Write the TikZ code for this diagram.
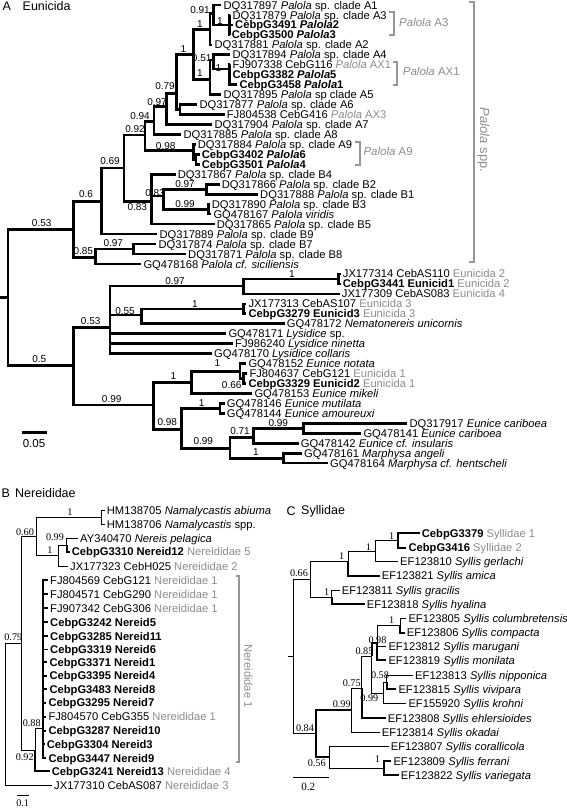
\documentclass[tikz,border=0pt]{standalone}
\usepackage{fontspec}
\setmainfont{Liberation Sans}
\newfontfamily\serifnum{Liberation Serif}
\definecolor{grtxt}{RGB}{140,140,140}
\definecolor{brk}{RGB}{150,150,150}
\newcommand{\greytxt}[1]{\textcolor{grtxt}{#1}}
\newcommand{\tipn}[4]{\node[tip] (#1) at ({#2-2},#3) {#4};}
\begin{document}
\begin{tikzpicture}[x=1pt,y=-1pt,
 tip/.style={anchor=west,inner sep=2pt,font=\fontsize{11.2}{12}\selectfont,text height=8.1pt,text depth=0pt},
 sup/.style={inner sep=0pt,font=\fontsize{10}{11}\selectfont},
 supS/.style={inner sep=0pt,font=\serifnum\fontsize{10.2}{11}\selectfont},
 ttl/.style={anchor=west,inner sep=0pt,font=\fontsize{12.5}{13}\selectfont},
 brA/.style={line width=2.6pt},
 bthin/.style={line width=0.9pt},
 bthick/.style={line width=1.9pt},
 bracket/.style={draw=brk,line width=2.2pt},
 brtxt/.style={text=grtxt,font=\fontsize{11.5}{12}\selectfont,anchor=west,inner sep=0pt}
]
\useasboundingbox (0,0) rectangle (567,808);
% ================= Panel A =================
\node[ttl] (tA) at (2.5,6) {A};
\node[ttl] (tAn) at (22.5,6) {Eunicida};
% tips
\tipn{tA1}{223.3}{5.0}{DQ317897 \textit{Palola} sp. clade A1}
\tipn{tA3}{232.3}{14.96}{DQ317879 \textit{Palola} sp. clade A3}
\tipn{tG3491}{235}{24.92}{\textbf{CebpG3491 \textit{Palola}2}}
\tipn{tG3500}{231.7}{34.88}{\textbf{CebpG3500 \textit{Palola}3}}
\tipn{tA2}{214.3}{44.84}{DQ317881 \textit{Palola} sp. clade A2}
\tipn{tA4}{232.3}{54.8}{DQ317894 \textit{Palola} sp. clade A4}
\tipn{tFJ907338}{232.3}{64.76}{FJ907338 CebG116 \greytxt{\textit{Palola} AX1}}
\tipn{tG3382}{232.3}{74.72}{\textbf{CebpG3382 \textit{Palola}5}}
\tipn{tG3458}{239.3}{84.68}{\textbf{CebpG3458 \textit{Palola}1}}
\tipn{tA5}{223.3}{94.64}{DQ317895 \textit{Palola} sp clade A5}
\tipn{tA6}{199.3}{104.6}{DQ317877 \textit{Palola} sp. clade A6}
\tipn{tFJ804538}{226.7}{114.56}{FJ804538 CebG416 \greytxt{\textit{Palola} AX3}}
\tipn{tA7}{214.3}{124.52}{DQ317904 \textit{Palola} sp. clade A7}
\tipn{tA8}{183.3}{134.48}{DQ317885 \textit{Palola} sp. clade A8}
\tipn{tA9}{197.7}{144.44}{DQ317884 \textit{Palola} sp. clade A9}
\tipn{tG3402}{201.7}{154.4}{\textbf{CebpG3402 \textit{Palola}6}}
\tipn{tG3501}{201.7}{164.36}{\textbf{CebpG3501 \textit{Palola}4}}
\tipn{tB4}{177.7}{174.32}{DQ317867 \textit{Palola} sp. clade B4}
\tipn{tB2}{221.7}{184.28}{DQ317866 \textit{Palola} sp. clade B2}
\tipn{tB1}{260}{194.24}{DQ317888 \textit{Palola} sp. clade B1}
\tipn{tB3}{211.7}{204.2}{DQ317890 \textit{Palola} sp. clade B3}
\tipn{tvir}{213.3}{214.16}{GQ478167 \textit{Palola viridis}}
\tipn{tB5}{216.7}{224.12}{DQ317865 \textit{Palola} sp. clade B5}
\tipn{tB9}{159.3}{234.08}{DQ317889 \textit{Palola} sp. clade B9}
\tipn{tB7}{158.3}{244.04}{DQ317874 \textit{Palola} sp. clade B7}
\tipn{tB8}{188}{254}{DQ317871 \textit{Palola} sp. clade B8}
\tipn{tsic}{143.3}{263.96}{GQ478168 \textit{Palola cf. siciliensis}}
\tipn{tJX177314}{342.7}{273.92}{JX177314 CebAS110 \greytxt{Eunicida 2}}
\tipn{tG3441}{342.7}{283.88}{\textbf{CebpG3441 Eunicid1} \greytxt{Eunicida 2}}
\tipn{tJX177309}{341.7}{293.84}{JX177309 CebAS083 \greytxt{Eunicida 4}}
\tipn{tJX177313}{248.3}{303.8}{JX177313 CebAS107 \greytxt{Eunicida 3}}
\tipn{tG3279}{248.3}{313.76}{\textbf{CebpG3279 Eunicid3} \greytxt{Eunicida 3}}
\tipn{tGQ478172}{286.7}{323.72}{GQ478172 \textit{Nematonereis unicornis}}
\tipn{tGQ478171}{228.3}{333.68}{GQ478171 \textit{Lysidice} sp.}
\tipn{tFJ986240}{235}{343.64}{FJ986240 \textit{Lysidice ninetta}}
\tipn{tGQ478170}{214}{353.6}{GQ478170 \textit{Lysidice collaris}}
\tipn{tGQ478152}{248.3}{363.56}{GQ478152 \textit{Eunice notata}}
\tipn{tFJ804637}{249.3}{373.52}{FJ804637 CebG121 \greytxt{Eunicida 1}}
\tipn{tG3329}{248.3}{383.48}{\textbf{CebpG3329 Eunicid2} \greytxt{Eunicida 1}}
\tipn{tGQ478153}{254.3}{393.44}{GQ478153 \textit{Eunice mikeli}}
\tipn{tGQ478146}{226.7}{403.4}{GQ478146 \textit{Eunice mutilata}}
\tipn{tGQ478144}{226.7}{413.36}{GQ478144 \textit{Eunice amoureuxi}}
\tipn{tDQ317917}{409.3}{423.32}{DQ317917 \textit{Eunice cariboea}}
\tipn{tGQ478141}{363.3}{433.28}{GQ478141 \textit{Eunice cariboea}}
\tipn{tGQ478142}{300.7}{443.24}{GQ478142 \textit{Eunice cf. insularis}}
\tipn{tGQ478161}{304}{453.2}{GQ478161 \textit{Marphysa angeli}}
\tipn{tGQ478164}{330}{463.16}{GQ478164 \textit{Marphysa cf. hentscheli}}
% internal nodes
\coordinate (Rs) at (0,297.5);
\coordinate (R) at (8,297.5);
\coordinate (P) at (73.3,229.3);
\coordinate (P06) at (101.7,201.7);
\coordinate (P085) at (95.7,257.3);
\coordinate (P069) at (124,168);
\coordinate (P092) at (145,135);
\coordinate (P094) at (154,121.7);
\coordinate (P097) at (166.7,106.7);
\coordinate (P079) at (176.7,93.3);
\coordinate (P1) at (193.3,54.3);
\coordinate (PA6) at (180,109.6);
\coordinate (P1a) at (210,29.3);
\coordinate (P1b) at (210,79.3);
\coordinate (P091) at (213.3,13.3);
\coordinate (PA3) at (229.3,24.9);
\coordinate (P051) at (213.3,60);
\coordinate (PAX) at (229.3,69);
\coordinate (P098) at (193.3,150.7);
\coordinate (PG34) at (196,159.4);
\coordinate (P083a) at (151.7,201.7);
\coordinate (P083b) at (163.3,196);
\coordinate (P097b) at (206.7,189.3);
\coordinate (P099) at (208.3,209.2);
\coordinate (P097c) at (133.3,249);
\coordinate (E) at (73.3,365.7);
\coordinate (E053) at (110,327.3);
\coordinate (E099) at (153.3,405);
\coordinate (E097) at (243.3,286);
\coordinate (E1a) at (338.3,278.9);
\coordinate (E055) at (141.7,315);
\coordinate (E1b) at (243.3,308.8);
\coordinate (E1c) at (191.7,382.7);
\coordinate (E1d) at (240,371.7);
\coordinate (E066) at (243.3,378.5);
\coordinate (E098) at (181.7,429.3);
\coordinate (E1e) at (220,408.4);
\coordinate (E099b) at (230,448.3);
\coordinate (E071) at (253.3,437.3);
\coordinate (E099c) at (303.3,428.3);
\coordinate (E1f) at (283.3,458.2);
% branches
\draw[brA] (Rs) -- (R) (R) |- (P) (R) |- (E);
\draw[brA] (P) |- (P06) (P) |- (P085);
\draw[brA] (P06) |- (P069) (P06) |- (tB9.west);
\draw[brA] (P069) |- (P092) (P069) |- (P083a);
\draw[brA] (P092) |- (P094) (P092) |- (P098);
\draw[brA] (P094) |- (P097) (P094) |- (tA8.west);
\draw[brA] (P097) |- (P079) (P097) |- (tA7.west);
\draw[brA] (P079) |- (P1) (P079) |- (PA6);
\draw[brA] (PA6) |- (tA6.west) (PA6) |- (tFJ804538.west);
\draw[brA] (P1) |- (P1a) (P1) |- (P1b);
\draw[brA] (P1a) |- (P091) (P1a) |- (tA2.west);
\draw[brA] (P091) |- (tA1.west) (P091) |- (PA3);
\draw[brA] (PA3) |- (tA3.west) (PA3) |- (tG3491.west) (PA3) |- (tG3500.west);
\draw[brA] (P1b) |- (P051) (P1b) |- (tA5.west);
\draw[brA] (P051) |- (tA4.west) (P051) |- (PAX);
\draw[brA] (PAX) |- (tFJ907338.west) (PAX) |- (tG3382.west) (PAX) |- (tG3458.west);
\draw[brA] (P098) |- (tA9.west) (P098) |- (PG34);
\draw[brA] (PG34) |- (tG3402.west) (PG34) |- (tG3501.west);
\draw[brA] (P083a) |- (tB4.west) (P083a) |- (P083b) (P083a) |- (tB5.west);
\draw[brA] (P083b) |- (P097b) (P083b) |- (P099);
\draw[brA] (P097b) |- (tB2.west) (P097b) |- (tB1.west);
\draw[brA] (P099) |- (tB3.west) (P099) |- (tvir.west);
\draw[brA] (P085) |- (P097c) (P085) |- (tsic.west);
\draw[brA] (P097c) |- (tB7.west) (P097c) |- (tB8.west);
\draw[brA] (E) |- (E053) (E) |- (E099);
\draw[brA] (E053) |- (E097) (E053) |- (E055) (E053) |- (tGQ478171.west) (E053) |- (tFJ986240.west) (E053) |- (tGQ478170.west);
\draw[brA] (E097) |- (E1a) (E097) |- (tJX177309.west);
\draw[brA] (E1a) |- (tJX177314.west) (E1a) |- (tG3441.west);
\draw[brA] (E055) |- (E1b) (E055) |- (tGQ478172.west);
\draw[brA] (E1b) |- (tJX177313.west) (E1b) |- (tG3279.west);
\draw[brA] (E099) |- (E1c) (E099) |- (E098);
\draw[brA] (E1c) |- (E1d) (E1c) |- (tGQ478153.west);
\draw[brA] (E1d) |- (tGQ478152.west) (E1d) |- (E066);
\draw[brA] (E066) |- (tFJ804637.west) (E066) |- (tG3329.west);
\draw[brA] (E098) |- (E1e) (E098) |- (E099b);
\draw[brA] (E1e) |- (tGQ478146.west) (E1e) |- (tGQ478144.west);
\draw[brA] (E099b) |- (E071) (E099b) |- (E1f);
\draw[brA] (E071) |- (E099c) (E071) |- (tGQ478142.west);
\draw[brA] (E099c) |- (tDQ317917.west) (E099c) |- (tGQ478141.west);
\draw[brA] (E1f) |- (tGQ478161.west) (E1f) |- (tGQ478164.west);
% support values A
\node[sup] (la1) at (41.7,222.7) {0.53};
\node[sup] (la2) at (86,194.3) {0.6};
\node[sup] (la3) at (83.3,250.7) {0.85};
\node[sup] (la4) at (110,161) {0.69};
\node[sup] (la5) at (135,129.5) {0.92};
\node[sup] (la6) at (140,116) {0.94};
\node[sup] (la7) at (157,102.5) {0.97};
\node[sup] (la8) at (165,86) {0.79};
\node[sup] (la9) at (183.3,49.3) {1};
\node[sup] (la10) at (200,24) {1};
\node[sup] (la11) at (200,10) {0.91};
\node[sup] (la12) at (220,20.7) {1};
\node[sup] (la13) at (200,72.7) {1};
\node[sup] (la14) at (201.7,58.3) {0.51};
\node[sup] (la15) at (218.3,68.3) {1};
\node[sup] (la16) at (165.7,146) {0.98};
\node[sup] (la17) at (137.3,206.7) {0.83};
\node[sup] (la18) at (155,192.7) {0.83};
\node[sup] (la19) at (185,184) {0.97};
\node[sup] (la20) at (185,204.3) {0.99};
\node[sup] (la21) at (113.3,243.3) {0.97};
\node[sup] (la22) at (39.3,359.3) {0.5};
\node[sup] (la23) at (90.7,321) {0.53};
\node[sup] (la24) at (111.7,399) {0.99};
\node[sup] (la25) at (175,280.7) {0.97};
\node[sup] (la26) at (292,274) {1};
\node[sup] (la27) at (125,310.7) {0.55};
\node[sup] (la28) at (195,304) {1};
\node[sup] (la29) at (173.3,375.7) {1};
\node[sup] (la30) at (217.3,363.3) {1};
\node[sup] (la31) at (231.7,385) {0.66};
\node[sup] (la32) at (167.3,421.7) {0.98};
\node[sup] (la33) at (201.7,402.7) {1};
\node[sup] (la34) at (203.3,441) {0.99};
\node[sup] (la35) at (240,430.7) {0.71};
\node[sup] (la36) at (278.3,422.7) {0.99};
\node[sup] (la37) at (256,451.7) {1};
% scale A
\coordinate (sa1) at (21.7,432.7);
\coordinate (sa2) at (46.7,432.7);
\draw[brA] (sa1) -- (sa2);
\node[inner sep=0pt,font=\fontsize{11.5}{12}\selectfont] (sal) at (34,443.3) {0.05};
% brackets A
\draw[bracket] (389.3,11.7) -- (394,11.7) -- (394,35) -- (389.3,35);
\node[brtxt] (bA3) at (399,22.7) {\textit{Palola} A3};
\draw[bracket] (392.7,61.7) -- (397.3,61.7) -- (397.3,85) -- (392.7,85);
\node[brtxt] (bAX1) at (402.7,71) {\textit{Palola} AX1};
\draw[bracket] (355,141.7) -- (360,141.7) -- (360,165) -- (355,165);
\node[brtxt] (bA9) at (363.3,151.7) {\textit{Palola} A9};
\draw[bracket] (469,1.7) -- (474,1.7) -- (474,261.7) -- (469,261.7);
\node[text=grtxt,font=\fontsize{13}{14}\selectfont,rotate=-90,inner sep=0pt] (bspp) at (483.5,140) {\textit{Palola} spp.};
% ================= Panel B =================
\node[ttl] (tB) at (1.5,493.3) {B};
\node[ttl] (tBn) at (15,493.3) {Nereididae};
\tipn{bHM05}{106.7}{510}{HM138705 \textit{Namalycastis abiuma}}
\tipn{bHM06}{106.7}{524.3}{HM138706 \textit{Namalycastis} spp.}
\tipn{bAY}{80}{538.3}{AY340470 \textit{Nereis pelagica}}
\tipn{bG3310}{71.7}{551.7}{\textbf{CebpG3310 Nereid12} \greytxt{Nereididae 5}}
\tipn{bJX323}{70}{566}{JX177323 CebH025 \greytxt{Nereididae 2}}
\tipn{bFJ569}{50}{580.3}{FJ804569 CebG121 \greytxt{Nereididae 1}}
\tipn{bFJ571}{50}{594.3}{FJ804571 CebG290 \greytxt{Nereididae 1}}
\tipn{bFJ342}{50}{608.3}{FJ907342 CebG306 \greytxt{Nereididae 1}}
\tipn{bG3242}{50}{622.3}{\textbf{CebpG3242 Nereid5}}
\tipn{bG3285}{50}{636.3}{\textbf{CebpG3285 Nereid11}}
\tipn{bG3319}{50}{649.5}{\textbf{CebpG3319 Nereid6}}
\tipn{bG3371}{49.3}{662.3}{\textbf{CebpG3371 Nereid1}}
\tipn{bG3395}{49.3}{675.7}{\textbf{CebpG3395 Nereid4}}
\tipn{bG3483}{49.3}{689.3}{\textbf{CebpG3483 Nereid8}}
\tipn{bG3295}{48.3}{702.7}{\textbf{CebpG3295 Nereid7}}
\tipn{bFJ570}{48.3}{716.7}{FJ804570 CebG355 \greytxt{Nereididae 1}}
\tipn{bG3287}{48.3}{730.7}{\textbf{CebpG3287 Nereid10}}
\tipn{bG3304}{46.7}{744.3}{\textbf{CebpG3304 Nereid3}}
\tipn{bG3447}{48.3}{758.3}{\textbf{CebpG3447 Nereid9}}
\tipn{bG3241}{51.7}{771}{\textbf{CebpG3241 Nereid13} \greytxt{Nereididae 4}}
\tipn{bJX310}{54}{785}{JX177310 CebAS087 \greytxt{Nereididae 3}}
\coordinate (BR) at (5,643);
\coordinate (B079) at (21.7,643);
\coordinate (B060) at (36,536.7);
\coordinate (B092) at (35,750);
\coordinate (BNam) at (101.7,517);
\coordinate (BNer) at (58.3,555);
\coordinate (B099) at (66.7,545);
\coordinate (B088) at (43.3,728.3);
\draw[bthin] (BR) -- (B079) (BR) |- (bJX310.west);
\draw[bthin] (B079) |- (B060) (B079) |- (B092);
\draw[bthin] (B060) |- (BNam) (B060) |- (BNer);
\draw[bthin] (BNam) |- (bHM05.west) (BNam) |- (bHM06.west);
\draw[bthin] (BNer) |- (B099) (BNer) |- (bJX323.west);
\draw[line width=1.3pt] (B099) |- (bAY.west);
\draw[bthick] (B099) |- (bG3310.west);
\draw[bthin] (B092) |- (B088);
\draw[bthick] (B092) |- (bG3241.west);
\draw[bthick] (B088) |- (bFJ569.west) (B088) |- (bFJ571.west) (B088) |- (bFJ342.west)
  (B088) |- (bG3242.west) (B088) |- (bG3285.west) (B088) |- (bG3319.west)
  (B088) |- (bG3371.west) (B088) |- (bG3395.west) (B088) |- (bG3483.west)
  (B088) |- (bG3295.west) (B088) |- (bFJ570.west) (B088) |- (bG3287.west)
  (B088) |- (bG3304.west) (B088) |- (bG3447.west);
\node[supS] (lb1) at (70,512.3) {1};
\node[supS] (lb2) at (25,531.7) {0.60};
\node[supS] (lb3) at (55,537) {0.99};
\node[supS] (lb4) at (50,550.5) {1};
\node[supS] (lb5) at (13.3,637.5) {0.79};
\node[supS] (lb6) at (31.7,722.7) {0.88};
\node[supS] (lb7) at (24.7,756.7) {0.92};
\draw[bracket] (236,575.7) -- (239.3,575.7) -- (239.3,761.7) -- (236,761.7);
\node[text=grtxt,font=\fontsize{11.2}{12}\selectfont,rotate=-90,inner sep=0pt] (bNer1) at (248.3,676) {Nereididae 1};
\coordinate (sb1) at (16.7,795);
\coordinate (sb2) at (29.3,795);
\draw[bthin] (sb1) -- (sb2);
\node[supS] (sbl) at (22.7,803.3) {0.1};
% ================= Panel C =================
\node[ttl] (tC) at (286.5,511) {C};
\node[ttl] (tCn) at (301,511) {Syllidae};
\tipn{cG3379}{421.7}{533.3}{\textbf{CebpG3379} \greytxt{Syllidae 1}}
\tipn{cG3416}{408.3}{547.7}{\textbf{CebpG3416} \greytxt{Syllidae 2}}
\tipn{cEF810}{400}{561.7}{EF123810 \textit{Syllis gerlachi}}
\tipn{cEF821}{381.7}{575.7}{EF123821 \textit{Syllis amica}}
\tipn{cEF811}{341.7}{590}{EF123811 \textit{Syllis gracilis}}
\tipn{cEF818}{366.7}{604}{EF123818 \textit{Syllis hyalina}}
\tipn{cEF805}{408.3}{618.3}{EF123805 \textit{Syllis columbretensis}}
\tipn{cEF806}{406.7}{632.7}{EF123806 \textit{Syllis compacta}}
\tipn{cEF812}{388.3}{646.7}{EF123812 \textit{Syllis marugani}}
\tipn{cEF819}{388.3}{660}{EF123819 \textit{Syllis monilata}}
\tipn{cEF813}{415}{675}{EF123813 \textit{Syllis nipponica}}
\tipn{cEF815}{398.3}{689.3}{EF123815 \textit{Syllis vivipara}}
\tipn{cEF920}{408.3}{703.3}{EF155920 \textit{Syllis krohni}}
\tipn{cEF808}{387.7}{718.3}{EF123808 \textit{Syllis ehlersioides}}
\tipn{cEF814}{381.7}{732.7}{EF123814 \textit{Syllis okadai}}
\tipn{cEF807}{390.7}{746.7}{EF123807 \textit{Syllis corallicola}}
\tipn{cEF809}{393.3}{761}{EF123809 \textit{Syllis ferrani}}
\tipn{cEF822}{400.7}{775}{EF123822 \textit{Syllis variegata}}
\coordinate (CRs) at (288,656);
\coordinate (CR) at (293.3,656);
\coordinate (C066) at (310,579);
\coordinate (C1a) at (348.3,561.7);
\coordinate (C1b) at (375,551.7);
\coordinate (C1c) at (398.3,540.5);
\coordinate (C1d) at (331.7,597);
\coordinate (C084) at (316,733.3);
\coordinate (C099) at (351.7,710);
\coordinate (C056) at (329.3,757);
\coordinate (C075) at (361.7,688.3);
\coordinate (C085) at (371.7,656);
\coordinate (C098) at (377.3,643);
\coordinate (Ccc) at (400,625.5);
\coordinate (CK) at (383.3,693.3);
\coordinate (C058) at (386.7,682);
\coordinate (C1e) at (384.3,768);
\draw[bthin] (CRs) -- (CR) (CR) |- (C066) (CR) |- (C084);
\draw[bthin] (C066) |- (C1a) (C066) |- (C1d);
\draw[bthin] (C1a) |- (C1b);
\draw[bthick] (C1a) |- (cEF821.west);
\draw[bthin] (C1b) |- (C1c) (C1b) |- (cEF810.west);
\draw[bthick] (C1c) |- (cG3379.west) (C1c) |- (cG3416.west);
\draw[bthin] (C1d) |- (cEF811.west);
\draw[bthick] (C1d) |- (cEF818.west);
\draw[bthick] (C084) |- (C099) (C084) |- (C056);
\draw[bthin] (C099) |- (C075) (C099) |- (cEF814.west);
\draw[bthin] (C075) |- (C085);
\draw[bthick] (C075) |- (cEF808.west);
\draw[bthick] (C085) |- (C098);
\draw[bthin] (C085) |- (CK);
\draw[bthin] (C098) |- (Ccc) (C098) |- (cEF812.west);
\draw[bthick] (C098) |- (cEF819.west);
\draw[bthin] (Ccc) |- (cEF805.west);
\draw[bthick] (Ccc) |- (cEF806.west);
\draw[bthin] (CK) |- (C058) (CK) |- (cEF920.west);
\draw[bthin] (C058) |- (cEF813.west);
\draw[bthick] (C058) |- (cEF815.west);
\draw[bthin] (C056) |- (cEF807.west) (C056) |- (C1e);
\draw[bthick] (C1e) |- (cEF809.west) (C1e) |- (cEF822.west);
\node[supS] (lc1) at (299,573.3) {0.66};
\node[supS] (lc2) at (341.7,556.3) {1};
\node[supS] (lc3) at (368.3,546.7) {1};
\node[supS] (lc4) at (391.7,536.5) {1};
\node[supS] (lc5) at (326.7,592.3) {1};
\node[supS] (lc6) at (391.7,620) {1};
\node[supS] (lc7) at (377.5,640.5) {0.98};
\node[supS] (lc8) at (364.5,651) {0.85};
\node[supS] (lc9) at (380,674.7) {0.58};
\node[supS] (lc10) at (351.7,682.7) {0.75};
\node[supS] (lc11) at (369.3,698.3) {0.99};
\node[supS] (lc12) at (341.7,704) {0.99};
\node[supS] (lc13) at (305,727.7) {0.84};
\node[supS] (lc14) at (316.7,763.3) {0.56};
\node[supS] (lc15) at (377.3,759.3) {1};
\coordinate (sc1) at (293.3,777.7);
\coordinate (sc2) at (329.3,777.7);
\draw[bthin] (sc1) -- (sc2);
\node[supS,font=\serifnum\fontsize{11}{12}\selectfont] (scl) at (308.3,786.7) {0.2};
\end{tikzpicture}
\end{document}
